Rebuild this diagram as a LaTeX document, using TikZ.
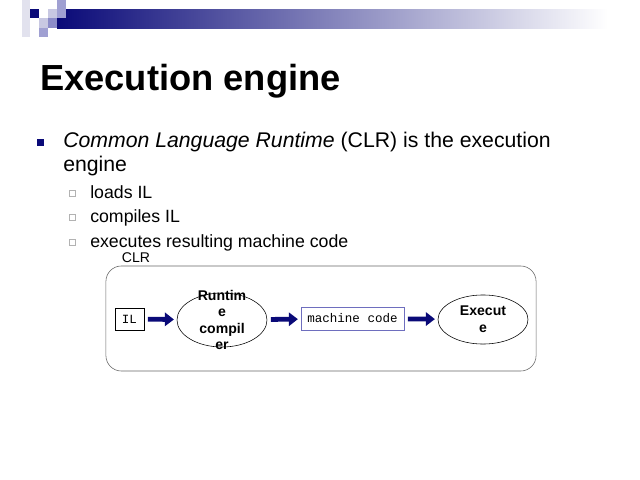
\documentclass[tikz,border=0pt]{standalone}
\usepackage{fontspec}
\setmainfont{Liberation Sans}
\setmonofont{Liberation Mono}
\usetikzlibrary{arrows.meta,shapes.geometric}
\definecolor{navy}{RGB}{10,10,120}
\definecolor{lav1}{RGB}{226,226,238}
\definecolor{lav2}{RGB}{200,200,226}
\definecolor{lav3}{RGB}{160,160,210}
\definecolor{lav4}{RGB}{140,140,200}
\definecolor{boxblue}{RGB}{110,110,190}
\begin{document}
\begin{tikzpicture}[x=0.025cm,y=-0.025cm,
    txt/.style={inner sep=0pt,anchor=base west},
    code/.style={draw,inner sep=0pt,font=\ttfamily\fontsize{8.9}{10}\selectfont},
    oval/.style={draw,ellipse,inner sep=0pt,minimum width=64pt},
    ovaltext/.style={align=center,inner sep=0pt,font=\bfseries\fontsize{10}{11.8}\selectfont},
    flow/.style={-{Triangle[length=6.4pt,width=9.4pt]},line width=3.4pt,navy,
      shorten <=2.6pt,shorten >=2pt}]
    \useasboundingbox (0,0) rectangle (640,480);
    % header bar
    \shade[left color=navy,right color=white] (57,9) rectangle (608,28);
    \fill[lav1] (22,0) rectangle (30,37);\fill[navy] (30,9) rectangle (39,18);
    \fill[lav2] (48,9) rectangle (57,18);\fill[lav3] (57,0) rectangle (66,18);
    \fill[lav2] (39,18) rectangle (48,28);\fill[lav4] (48,18) rectangle (57,28);
    \fill[lav3] (39,28) rectangle (48,37);
    % title and bullets
    \node[txt,font=\bfseries\fontsize{25.8}{30}\selectfont] (title) at (40,90) {Execution engine};
    \fill[navy] (37,139) rectangle (44,146);
    \node[txt,font=\fontsize{15.1}{18}\selectfont] (clrline) at (63,147)
      {\textit{Common Language Runtime} (CLR) is the execution};
    \node[txt,font=\fontsize{15.1}{18}\selectfont] (engline) at (63,171) {engine};
    \foreach \yy/\tt/\nm in {198/loads IL/loads,222/compiles IL/compiles,247/executes resulting machine code/executes}{
      \draw[gray!60,line width=0.4pt] (69,\yy-8) rectangle (75,\yy-2);
      \node[txt,font=\fontsize{12.6}{15}\selectfont] (\nm) at (90,\yy) {\tt};
    }
    % CLR frame
    \node[draw,gray!80!black,rounded corners=11pt,minimum width=305.9pt,minimum height=74.7pt] (clr) at (321,318.5) {};
    \node[inner sep=0pt,font=\fontsize{10}{12}\selectfont] (clrlabel) at (136,258) {CLR};
    % flow
    \node[code,minimum width=20.6pt,minimum height=15.6pt] (il) at (129.5,319) {IL};
    \node[oval,minimum height=38.4pt] (rc) at (222,320) {};
    \node[ovaltext] (rctext) at (rc) {Runtim\\e\\compil\\er};
    \node[code,draw=boxblue,minimum width=73.3pt,minimum height=16.4pt] (mc) at (352.5,318.5) {machine code};
    \node[oval,minimum height=34.9pt] (ex) at (483,319.5) {};
    \node[ovaltext] (extext) at (ex) {Execut\\e};
    \draw[flow] (il) -- (rc);\draw[flow] (rc) -- (mc);
    \draw[flow] (mc) -- (ex);
\end{tikzpicture}
\end{document}
